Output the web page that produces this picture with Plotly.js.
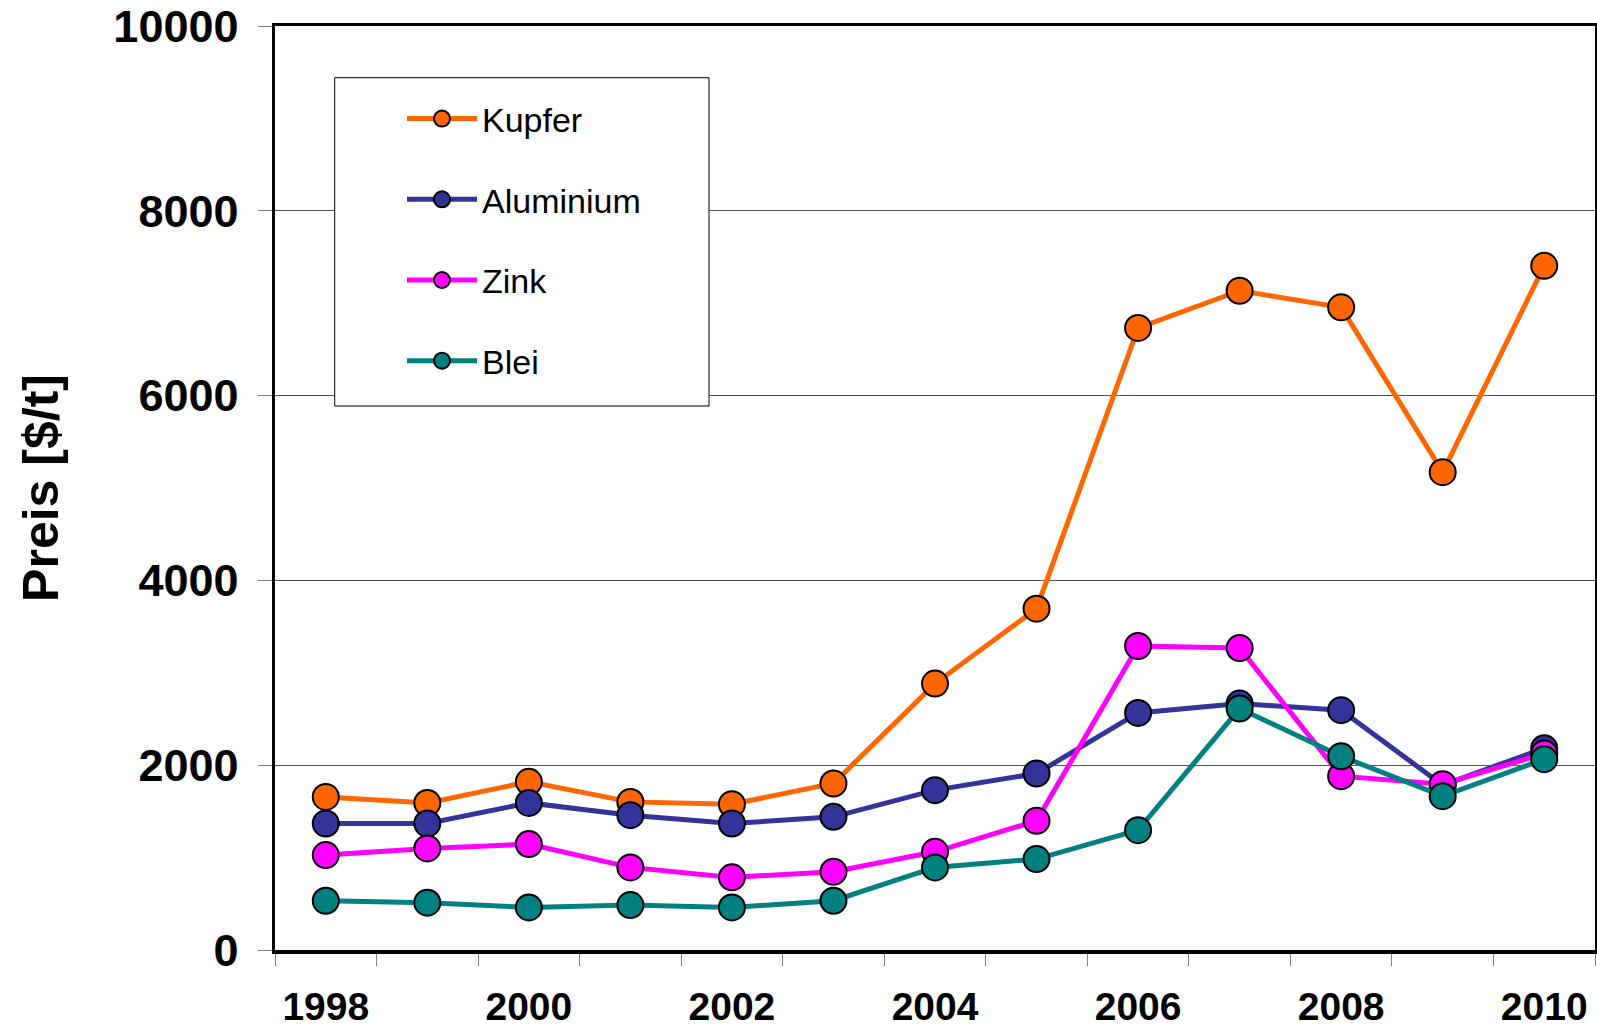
<!DOCTYPE html>
<html>
<head>
<meta charset="utf-8">
<script src="https://cdn.plot.ly/plotly-3.0.1.min.js"></script>
<style>
  html, body { margin: 0; padding: 0; background: #fff; }
  #chart { width: 1597px; height: 1028px; }
</style>
</head>
<body>
<div id="chart"></div>
<script>
// Jahresdurchschnittspreise für Nichteisenmetalle (US$ je Tonne)
const years = [1998, 1999, 2000, 2001, 2002, 2003, 2004, 2005, 2006, 2007, 2008, 2009, 2010];
const kupfer    = [1657, 1592, 1820, 1603, 1578, 1802, 2883, 3694, 6732, 7135, 6955, 5171, 7405];
const aluminium = [1369, 1369, 1592, 1459, 1369, 1441, 1730, 1910, 2566, 2667, 2595, 1784, 2184];
const zink      = [1027, 1099, 1146,  894,  786,  847, 1063, 1398, 3290, 3268, 1881, 1795, 2126];
const blei      = [ 533,  512,  461,  486,  461,  533,  894,  984, 1297, 2613, 2097, 1665, 2065];

const seriesNames  = ['Kupfer', 'Aluminium', 'Zink', 'Blei'];
const seriesValues = [kupfer, aluminium, zink, blei];
const seriesColors = ['#FF6600', '#333399', '#FF00FF', '#008080'];

const yearLabels = [1998, 2000, 2002, 2004, 2006, 2008, 2010];
const yTicks = [0, 2000, 4000, 6000, 8000, 10000];

// category boundaries carry the small tick marks
const boundaries = years.map(y => y - 0.5).concat([years[years.length - 1] + 0.5]);

const FONT = 'Arial, "Liberation Sans", sans-serif';

// plot frame in pixels, used to place the legend and its box
const W = 1597, H = 1028;
const M = { l: 275, r: 2, t: 26, b: 78 };
const plotW = W - M.l - M.r, plotH = H - M.t - M.b;
const px = x => (x - M.l) / plotW;
const py = y => (H - M.b - y) / plotH;

const traces = seriesNames.map((name, i) => ({
  type: 'scatter',
  mode: 'lines+markers',
  name: name,
  legendgroup: name,
  x: years,
  y: seriesValues[i],
  line: { color: seriesColors[i], width: 5 },
  marker: { color: seriesColors[i], size: 26, line: { color: '#000', width: 2 } }
}));

const layout = {
  width: W,
  height: H,
  margin: { l: M.l, r: M.r, t: M.t, b: M.b, pad: 0 },
  paper_bgcolor: '#fff',
  plot_bgcolor: '#fff',
  showlegend: true,
  font: { family: FONT, color: '#000' },
  xaxis: {
    range: [years[0] - 0.5, years[years.length - 1] + 0.5],
    tickmode: 'array',
    tickvals: yearLabels,
    ticktext: yearLabels.map(String),
    ticks: '',
    ticklabelstandoff: 20,
    tickfont: { family: FONT, size: 39, weight: 'bold', color: '#000' },
    showgrid: false,
    zeroline: false,
    showline: true,
    linecolor: '#000',
    linewidth: 3.5,
    mirror: true,
    minor: {
      tickmode: 'array',
      tickvals: boundaries,
      ticks: 'outside',
      ticklen: 12,
      tickwidth: 1,
      tickcolor: '#808080',
      showgrid: false
    }
  },
  yaxis: {
    range: [0, 10000],
    tickmode: 'array',
    tickvals: yTicks,
    ticktext: yTicks.map(String),
    ticks: 'outside',
    ticklen: 14,
    tickwidth: 1,
    tickcolor: '#808080',
    ticklabelstandoff: 10,
    tickfont: { family: FONT, size: 45, weight: 'bold', color: '#000' },
    showgrid: true,
    gridcolor: '#555555',
    gridwidth: 1,
    zeroline: false,
    showline: true,
    linecolor: '#000',
    linewidth: 3.5,
    mirror: true,
    title: {
      text: 'Preis [$/t]',
      font: { family: FONT, size: 50, weight: 'bold', color: '#000' },
      standoff: 40
    }
  },
  legend: {
    x: px(402),
    y: py(90),
    xanchor: 'left',
    yanchor: 'top',
    bgcolor: 'rgba(0,0,0,0)',
    borderwidth: 0,
    itemwidth: 70,
    tracegroupgap: 33.5,
    font: { family: FONT, size: 34, color: '#000' }
  },
  shapes: [{
    type: 'rect',
    xref: 'paper', yref: 'paper',
    x0: px(334.7), x1: px(709),
    y0: py(406), y1: py(77.7),
    line: { color: '#000', width: 1 },
    fillcolor: '#fff',
    layer: 'above'
  }]
};

Plotly.newPlot('chart', traces, layout, { displayModeBar: false, staticPlot: true });
</script>
</body>
</html>
